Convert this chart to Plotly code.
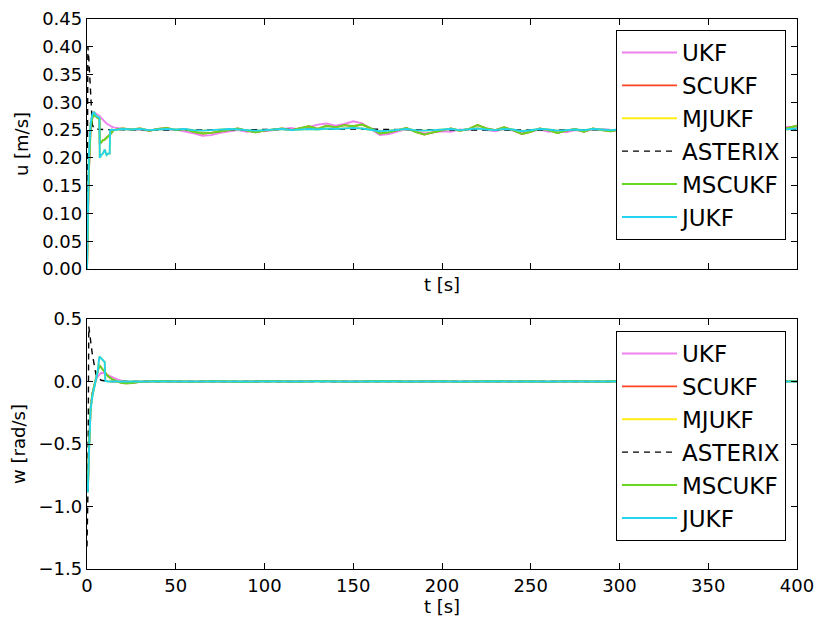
import plotly.graph_objects as go

# ---------------- data ----------------
series_names = ["UKF", "SCUKF", "MJUKF", "ASTERIX", "MSCUKF", "JUKF"]
series_colors = ["#ee82ee", "#ff4422", "#ffee11", "#000000", "#66d822", "#22d4f0"]

# top panel: surge velocity u [m/s]
t_u = [0, 0.5, 1, 2, 3, 4, 5, 6, 7, 7.2, 8, 9, 10, 11, 12, 12.8, 13, 14, 15] + list(range(20, 401, 5))

ukf_u = [0.0, 0.09, 0.18, 0.26, 0.278, 0.282, 0.280, 0.278, 0.276, 0.275, 0.272, 0.268, 0.265, 0.262, 0.260, 0.258, 0.257, 0.256, 0.255,
         0.252, 0.250, 0.251, 0.249, 0.252, 0.250, 0.251, 0.248, 0.244, 0.240, 0.241, 0.245, 0.248, 0.250, 0.247, 0.249,
         0.248, 0.250, 0.252, 0.254, 0.251, 0.256, 0.260, 0.262, 0.258, 0.261, 0.266, 0.262, 0.252, 0.241, 0.243, 0.248,
         0.252, 0.249, 0.244, 0.246, 0.248, 0.247, 0.251, 0.250, 0.253, 0.250, 0.248, 0.252, 0.249, 0.244, 0.248, 0.251,
         0.247, 0.249, 0.246, 0.250, 0.248, 0.251, 0.252, 0.250, 0.249, 0.252, 0.250, 0.247, 0.249, 0.252, 0.250, 0.248,
         0.251, 0.253, 0.250, 0.248, 0.250, 0.252, 0.249, 0.251, 0.250, 0.252, 0.251, 0.256, 0.255]

mscukf_u = [0.0, 0.08, 0.17, 0.25, 0.272, 0.278, 0.274, 0.272, 0.270, 0.225, 0.228, 0.232, 0.233, 0.236, 0.238, 0.240, 0.242, 0.246, 0.250,
            0.253, 0.251, 0.253, 0.249, 0.252, 0.254, 0.250, 0.252, 0.247, 0.244, 0.245, 0.248, 0.251, 0.253, 0.249, 0.246,
            0.249, 0.251, 0.253, 0.250, 0.254, 0.257, 0.252, 0.258, 0.255, 0.259, 0.257, 0.260, 0.253, 0.244, 0.246, 0.250,
            0.254, 0.247, 0.242, 0.246, 0.250, 0.253, 0.249, 0.252, 0.259, 0.253, 0.250, 0.255, 0.250, 0.243, 0.247, 0.253,
            0.250, 0.245, 0.249, 0.252, 0.247, 0.253, 0.250, 0.248, 0.251, 0.254, 0.249, 0.246, 0.250, 0.253, 0.249, 0.247,
            0.252, 0.254, 0.249, 0.246, 0.251, 0.253, 0.248, 0.251, 0.249, 0.253, 0.250, 0.254, 0.258]

jukf_u = [0.0, 0.10, 0.20, 0.262, 0.278, 0.283, 0.276, 0.274, 0.272, 0.200, 0.205, 0.208, 0.215, 0.205, 0.208, 0.208, 0.250, 0.251, 0.250,
          0.252, 0.251, 0.252, 0.250, 0.251, 0.252, 0.251, 0.252, 0.250, 0.249, 0.250, 0.251, 0.252, 0.251, 0.250, 0.249,
          0.250, 0.251, 0.252, 0.250, 0.251, 0.252, 0.251, 0.253, 0.252, 0.253, 0.254, 0.253, 0.251, 0.248, 0.249, 0.250,
          0.252, 0.250, 0.249, 0.250, 0.251, 0.252, 0.250, 0.251, 0.253, 0.251, 0.250, 0.252, 0.251, 0.248, 0.250, 0.252,
          0.251, 0.249, 0.250, 0.251, 0.250, 0.252, 0.251, 0.250, 0.251, 0.252, 0.250, 0.249, 0.250, 0.252, 0.250, 0.249,
          0.251, 0.252, 0.250, 0.249, 0.251, 0.252, 0.250, 0.251, 0.250, 0.251, 0.250, 0.252, 0.253]

scukf_u = list(mscukf_u)
mjukf_u = list(jukf_u)

t_ast_u = [0, 0.5, 1, 2, 3, 4, 10, 50, 100, 150, 200, 250, 300, 350, 400]
asterix_u = [0.0, 0.40, 0.38, 0.31, 0.26, 0.252, 0.251, 0.250, 0.251, 0.252, 0.250, 0.250, 0.251, 0.250, 0.251]

# bottom panel: w [rad/s]
t_w = [0, 0.5, 1, 2, 3, 4, 5, 6, 7, 8, 9, 10, 10.3, 11, 12, 14, 16, 18, 20, 22, 25, 28] + list(range(30, 401, 10))

ukf_w = [-0.85, -0.85, -0.60, -0.22, -0.10, -0.03, 0.01, 0.04, 0.06, 0.07, 0.068, 0.062, 0.06, 0.055, 0.048, 0.035, 0.022, 0.012, 0.005, 0.0, -0.004, -0.003,
         0.0, 0.003, -0.002, 0.002, 0.0, -0.003, 0.002, 0.001, -0.002, 0.003, 0.004, -0.002, 0.002, 0.0, -0.003, 0.001, 0.002, -0.002, 0.003,
         0.0, -0.002, 0.002, 0.001, -0.001, 0.003, 0.0, -0.002, 0.002, 0.0, 0.003, -0.001, 0.002, 0.0, -0.002, 0.001, 0.002, 0.0, 0.001]

mscukf_w = [-0.85, -0.85, -0.58, -0.22, -0.10, -0.03, 0.02, 0.08, 0.13, 0.11, 0.09, 0.07, 0.065, 0.055, 0.04, 0.02, 0.005, -0.005, -0.012, -0.015, -0.012, -0.006,
            -0.003, 0.004, 0.001, -0.003, 0.003, 0.0, -0.004, 0.003, 0.002, -0.002, 0.005, 0.001, -0.003, 0.002, 0.004, -0.002, 0.001, 0.003, -0.003,
            0.002, 0.004, -0.001, 0.002, -0.003, 0.003, 0.001, -0.002, 0.004, 0.0, -0.002, 0.003, 0.001, -0.003, 0.002, 0.004, -0.001, 0.002, 0.003]

jukf_w = [-0.88, -0.88, -0.62, -0.23, -0.12, -0.05, 0.0, 0.08, 0.20, 0.185, 0.17, 0.155, 0.005, 0.002, 0.0, 0.0, 0.0, 0.0, 0.0, 0.0, 0.0, 0.0,
          0.0, 0.001, 0.0, -0.001, 0.001, 0.0, 0.0, 0.001, 0.0, -0.001, 0.001, 0.0, 0.0, 0.001, 0.0, -0.001, 0.0, 0.001, 0.0,
          0.0, 0.001, 0.0, -0.001, 0.0, 0.001, 0.0, 0.0, -0.001, 0.0, 0.001, 0.0, 0.0, 0.001, 0.0, -0.001, 0.0, 0.001, 0.0]

scukf_w = list(mscukf_w)
mjukf_w = list(jukf_w)

t_ast_w = [0, 0.5, 1, 1.5, 2, 3, 4, 5, 6, 8, 12, 50, 100, 200, 300, 400]
asterix_w = [-1.32, -0.90, 0.44, 0.40, 0.33, 0.22, 0.12, 0.06, 0.03, 0.01, 0.0, 0.0, 0.0, 0.0, 0.0, 0.0]

u_ticks = [0.0, 0.05, 0.10, 0.15, 0.20, 0.25, 0.30, 0.35, 0.40, 0.45]
w_ticks = [-1.5, -1.0, -0.5, 0.0, 0.5]
t_ticks = [0, 50, 100, 150, 200, 250, 300, 350, 400]

# ---------------- figure ----------------
FONT = "DejaVu Sans"
fig = go.Figure()

top_data = [(t_u, ukf_u), (t_u, scukf_u), (t_u, mjukf_u), (t_ast_u, asterix_u), (t_u, mscukf_u), (t_u, jukf_u)]
bot_data = [(t_w, ukf_w), (t_w, scukf_w), (t_w, mjukf_w), (t_ast_w, asterix_w), (t_w, mscukf_w), (t_w, jukf_w)]

for panel, data, xa, ya, lg in [("a", top_data, "x", "y", "legend"), ("b", bot_data, "x2", "y2", "legend2")]:
    for i, (name, col) in enumerate(zip(series_names, series_colors)):
        dash = "6px,5px" if name == "ASTERIX" else "solid"
        width = 1.4 if name == "ASTERIX" else 1.9
        x, y = data[i]
        fig.add_trace(go.Scatter(x=x, y=y, mode="lines", name=name, legendgroup=panel + name,
                                 line=dict(color=col, width=width, dash=dash),
                                 xaxis=xa, yaxis=ya, legend=lg))

axis_common = dict(showline=True, linecolor="black", linewidth=1.3, mirror="ticks",
                   ticks="inside", ticklen=6, tickwidth=1, tickcolor="black",
                   showgrid=False, zeroline=False, automargin=False,
                   tickfont=dict(family=FONT, size=18, color="black"))

legend_common = dict(xanchor="right", yanchor="top",
                     bgcolor="white", bordercolor="black", borderwidth=1,
                     font=dict(family=FONT, size=23, color="black"),
                     itemwidth=55, tracegroupgap=0)

x0, x1 = 87 / 819, 797 / 819
fig.update_layout(
    template="none",
    width=819, height=625,
    margin=dict(l=0, r=0, t=0, b=0, autoexpand=False),
    paper_bgcolor="white", plot_bgcolor="white",
    font=dict(family=FONT, size=18, color="black"),
    xaxis=dict(domain=[x0, x1], range=[0, 400], tickvals=t_ticks, showticklabels=False,
               anchor="y", title=dict(text="t [s]", standoff=9, font=dict(size=18)), **axis_common),
    yaxis=dict(domain=[1 - 269 / 625, 1 - 19 / 625], range=[0, 0.45], tickvals=u_ticks,
               tickformat=".2f", anchor="x",
               title=dict(text="u [m/s]", standoff=8, font=dict(size=18)), **axis_common),
    xaxis2=dict(domain=[x0, x1], range=[0, 400], tickvals=t_ticks, anchor="y2",
                title=dict(text="t [s]", standoff=4, font=dict(size=18)), **axis_common),
    yaxis2=dict(domain=[1 - 569 / 625, 1 - 319 / 625], range=[-1.5, 0.5], tickvals=w_ticks,
                tickformat=".1f", anchor="x2",
                title=dict(text="w [rad/s]", standoff=8, font=dict(size=18)), **axis_common),
    legend=dict(x=786 / 819, y=1 - 30 / 625, **legend_common),
    legend2=dict(x=786 / 819, y=1 - 331 / 625, **legend_common),
)

fig.write_html("out.html")
